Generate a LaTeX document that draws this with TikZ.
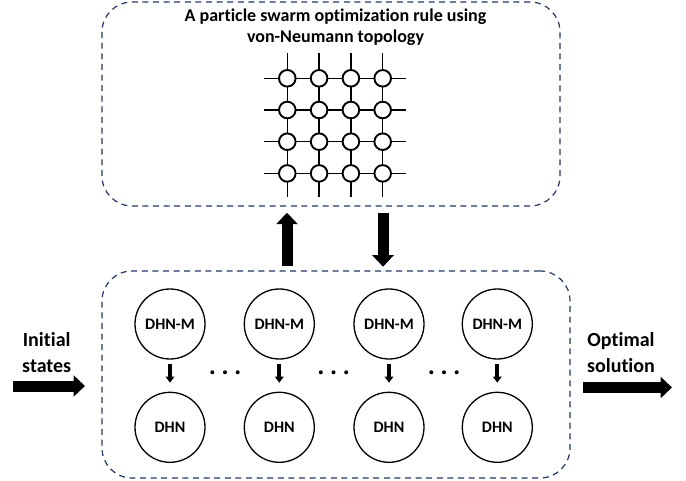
\documentclass[tikz,border=0pt]{standalone}
\usepackage{fontspec}
\setmainfont{Carlito}[Ligatures={NoCommon}]
\usetikzlibrary{arrows.meta}
\definecolor{boxline}{RGB}{31,56,100}
\tikzset{
  dashbox/.style={draw=boxline, line width=1.2pt, dash pattern=on 6pt off 4.6pt, rounded corners=30pt, inner sep=0pt},
  gridnode/.style={circle, draw=black, line width=1.9pt, fill=white, minimum size=16.6pt, inner sep=0pt},
  gridline/.style={line width=1.4pt, black},
  dhn/.style={circle, draw=black, line width=1.3pt, minimum size=70pt, inner sep=0pt, font=\bfseries\fontsize{16}{18}\selectfont},
  bigarrow/.style={line width=11pt, -{Triangle[width=21pt,length=11.5pt]}},
  smallarrow/.style={line width=3.8pt, -{Triangle[width=8.5pt,length=6pt]}},
  label/.style={font=\bfseries\fontsize{20}{24}\selectfont, inner sep=0pt, anchor=base},
  title/.style={font=\bfseries\fontsize{18}{21}\selectfont, inner sep=0pt, anchor=base},
  dot/.style={circle, fill=black, minimum size=4pt, inner sep=0pt}
}
\begin{document}
\begin{tikzpicture}[x=1pt, y=-1pt]
\useasboundingbox (0,0) rectangle (686,481);
% boxes
\node[dashbox, minimum width=458pt, minimum height=204pt] (topbox) at (331,104) {};
\node[dashbox, minimum width=468pt, minimum height=207pt] (botbox) at (336,374.5) {};
% title
\node[title] (t1) at (335.5,21.7) {A particle swarm optimization rule using};
\node[title] (t2) at (335.5,42.7) {von-Neumann topology};
% grid
\foreach \i in {1,...,4} {
  \foreach \j in {1,...,4} {
    \coordinate (c-\i-\j) at ({287.3+31.8*(\j-1)},{78.3+31.7*(\i-1)});
  }
}
\foreach \i in {1,...,4} {
  \coordinate (hl-\i) at ([xshift=-23.3pt]c-\i-1);
  \coordinate (hr-\i) at ([xshift=23.3pt]c-\i-4);
  \coordinate (vt-\i) at ([yshift=25pt]c-1-\i);
  \coordinate (vb-\i) at ([yshift=-23.7pt]c-4-\i);
  \draw[gridline] (hl-\i) -- (hr-\i);
  \draw[gridline] (vt-\i) -- (vb-\i);
}
\foreach \i in {1,...,4} {
  \foreach \j in {1,...,4} {
    \node[gridnode] (g-\i-\j) at (c-\i-\j) {};
  }
}
% DHN nodes
\foreach \k/\x in {1/170,2/279.3,3/389,4/497.3} {
  \node[dhn] (m\k) at (\x,324) {DHN-M};
  \node[dhn] (d\k) at (\x,427.3) {DHN};
  \coordinate (sa\k) at (\x,364);
  \coordinate (sb\k) at (\x,382.7);
  \draw[smallarrow] (sa\k) -- (sb\k);
}
% dots
\foreach \k/\x in {1/225,2/333.5,3/444} {
  \node[dot] (dA\k) at (\x-12.7,372.3) {};
  \node[dot] (dB\k) at (\x,372.3) {};
  \node[dot] (dC\k) at (\x+12.7,372.3) {};
}
% big arrows
\coordinate (upS) at (287,266);
\coordinate (upE) at (287,212.7);
\draw[bigarrow] (upS) -- (upE);
\coordinate (dnS) at (383,212.7);
\coordinate (dnE) at (383,266.7);
\draw[bigarrow] (dnS) -- (dnE);
% input / output
\node[label] (in1) at (46.7,347) {Initial};
\node[label] (in2) at (46.7,372) {states};
\coordinate (inS) at (13,386);
\coordinate (inE) at (85,386);
\draw[bigarrow] (inS) -- (inE);
\node[label] (out1) at (621,347) {Optimal};
\node[label] (out2) at (621,372) {solution};
\coordinate (outS) at (583,387.5);
\coordinate (outE) at (672,387.5);
\draw[bigarrow] (outS) -- (outE);
\end{tikzpicture}
\end{document}
